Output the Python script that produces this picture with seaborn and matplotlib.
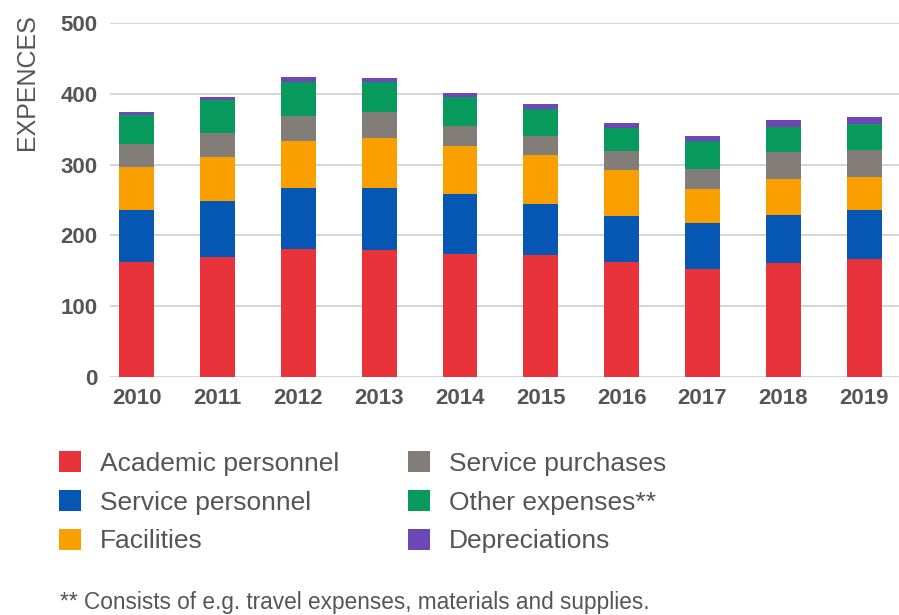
import numpy as np
import pandas as pd
import matplotlib
matplotlib.use("Agg")
import matplotlib.pyplot as plt
import seaborn as sns
from matplotlib.patches import Patch

years = ["2010", "2011", "2012", "2013", "2014", "2015", "2016", "2017", "2018", "2019"]
categories = ["Academic personnel", "Service personnel", "Facilities",
              "Service purchases", "Other expenses**", "Depreciations"]
academic = [162, 169, 181, 179, 174, 172, 163, 153, 161, 166]
service_personnel = [74, 79, 86, 88, 84, 73, 65, 65, 68, 70]
facilities = [60, 63, 67, 71, 68, 68, 65, 48, 51, 47]
service_purchases = [33, 33, 35, 36, 28, 27, 26, 28, 38, 38]
other_expenses = [41, 47, 48, 42, 41, 39, 33, 39, 35, 37]
depreciations = [4, 5, 7, 7, 6, 7, 7, 8, 10, 9]
yticks = [0, 100, 200, 300, 400, 500]

colors = ["#E8333A", "#0657B4", "#F9A000", "#827D78", "#079A5C", "#6C47B5"]

sns.set_theme(style="white")
plt.rcParams["font.family"] = ["Liberation Sans", "DejaVu Sans"]

series = [academic, service_personnel, facilities, service_purchases, other_expenses, depreciations]
df = pd.DataFrame({"year": years})
cum = np.zeros(len(years))
for name, vals in zip(categories, series):
    cum = cum + np.array(vals)
    df[name] = cum

fig = plt.figure(figsize=(8.99, 6.15), dpi=100)
ax = fig.add_axes([110 / 899, 1 - 377 / 615, (899 - 110) / 899, (377 - 23) / 615])

for name, col in reversed(list(zip(categories, colors))):
    sns.barplot(data=df, x="year", y=name, color=col, width=0.43,
                saturation=1, ax=ax, linewidth=0, zorder=3)

ax.set_ylim(0, 500)
ax.set_xlim(-0.33, 9.43)
ax.set_yticks(yticks)
ax.yaxis.grid(True, color="#CFCFCF", linewidth=1.2, zorder=0)
ax.xaxis.grid(False)
for s in ax.spines.values():
    s.set_visible(False)
ax.set_xlabel("")
ax.set_ylabel("")
ax.tick_params(axis="y", length=0, pad=9, labelsize=16, labelcolor="#555555")
ax.tick_params(axis="x", length=0, pad=8, labelsize=16, labelcolor="#555555")
for lab in ax.get_xticklabels() + ax.get_yticklabels():
    lab.set_fontweight("bold")

fig.text(27 / 899, 1 - 82 / 615, "EXPENCES", rotation=90, ha="center", va="center",
         fontsize=18, color="#555555")

handles = [Patch(facecolor=c, edgecolor="none") for c in colors]
leg = fig.legend(handles, categories, loc="upper left", bbox_to_anchor=(59 / 899, 1 - 451 / 615),
                 ncol=2, frameon=False, fontsize=19, handlelength=0.85, handleheight=0.85,
                 handletextpad=0.7, columnspacing=2.6, labelspacing=0.54, borderpad=0,
                 borderaxespad=0)
for t in leg.get_texts():
    t.set_color("#555555")

fig.text(60 / 899, 1 - 603 / 615, "** Consists of e.g. travel expenses, materials and supplies.",
         ha="left", va="center", fontsize=16.3, color="#555555")

fig.savefig("out.png", dpi=100)
